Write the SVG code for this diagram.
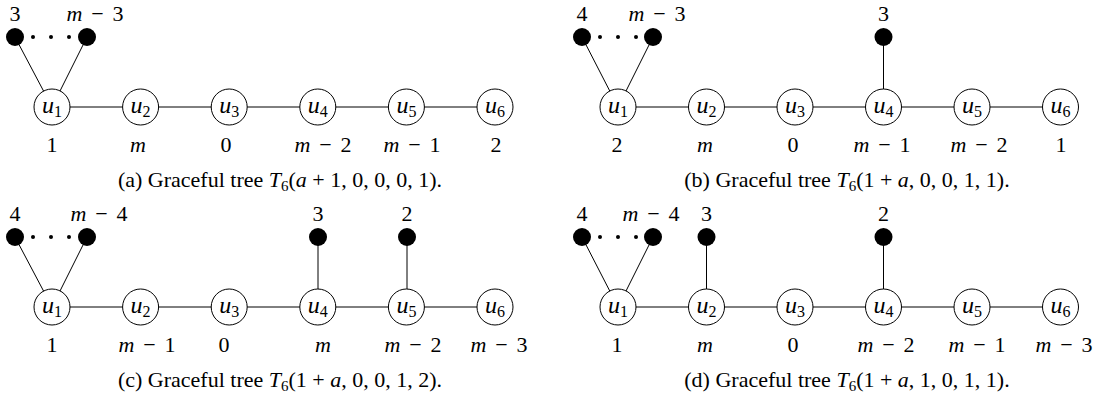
<svg xmlns="http://www.w3.org/2000/svg" width="1102" height="396" viewBox="0 0 1102 396">
<style>
text{font-family:"Liberation Serif","Times New Roman",serif;font-size:22px;fill:#000;text-anchor:middle}
.i{font-style:italic}
.sub{font-size:15px}
.nl{font-size:24px}
.nl .sub{font-size:16px}
.n{fill:#fff;stroke:#000;stroke-width:1}
.leaf{fill:#000}
.dot{fill:#000}
.e{stroke:#000;stroke-width:1;fill:none}
</style>
<rect width="1102" height="396" fill="#fff"/>
<g id="connectors">
<path class="e" d="M15,37L52,107M87,37L52,107M52,107H495"/>
<path class="e" d="M582,37L618,107M653,37L618,107M618,107H1060.5M883.5,37V107"/>
<path class="e" d="M15,237L52,307M87,237L52,307M52,307H495M318,237V307M407,237V307"/>
<path class="e" d="M582,237L618,307M653,237L618,307M618,307H1060.5M706.5,237V307M883.5,237V307"/>
</g>
<!-- Panel (a) -->
<g id="a-leaves">
<circle class="leaf" cx="15" cy="37" r="9"/><circle class="leaf" cx="87" cy="37" r="9"/>
<circle class="dot" cx="33" cy="37" r="2"/><circle class="dot" cx="51" cy="37" r="2"/><circle class="dot" cx="69" cy="37" r="2"/>
<text x="15" y="21">3</text><text x="95" y="21" textLength="57" lengthAdjust="spacing"><tspan class="i">m</tspan> − 3</text>
</g>
<g id="a-u1"><circle class="n" cx="52" cy="107" r="18"/><text class="nl" x="52" y="113"><tspan class="i">u</tspan><tspan class="sub" dy="4">1</tspan></text><text x="52" y="152">1</text></g>
<g id="a-u2"><circle class="n" cx="140.6" cy="107" r="18"/><text class="nl" x="140.6" y="113"><tspan class="i">u</tspan><tspan class="sub" dy="4">2</tspan></text><text x="138" y="152" class="i">m</text></g>
<g id="a-u3"><circle class="n" cx="229.2" cy="107" r="18"/><text class="nl" x="229.2" y="113"><tspan class="i">u</tspan><tspan class="sub" dy="4">3</tspan></text><text x="226" y="152">0</text></g>
<g id="a-u4"><circle class="n" cx="317.8" cy="107" r="18"/><text class="nl" x="317.8" y="113"><tspan class="i">u</tspan><tspan class="sub" dy="4">4</tspan></text><text x="323" y="152" textLength="57" lengthAdjust="spacing"><tspan class="i">m</tspan> − 2</text></g>
<g id="a-u5"><circle class="n" cx="406.4" cy="107" r="18"/><text class="nl" x="406.4" y="113"><tspan class="i">u</tspan><tspan class="sub" dy="4">5</tspan></text><text x="412" y="152" textLength="57" lengthAdjust="spacing"><tspan class="i">m</tspan> − 1</text></g>
<g id="a-u6"><circle class="n" cx="495" cy="107" r="18"/><text class="nl" x="495" y="113"><tspan class="i">u</tspan><tspan class="sub" dy="4">6</tspan></text><text x="496" y="152">2</text></g>
<text id="cap-a" x="280" y="187">(a) Graceful tree <tspan class="i">T</tspan><tspan class="sub" dy="4">6</tspan><tspan dy="-4">(</tspan><tspan class="i">a</tspan> + 1, 0, 0, 0, 1).</text>
<!-- Panel (b) -->
<g id="b-leaves">
<circle class="leaf" cx="582" cy="37" r="9"/><circle class="leaf" cx="653" cy="37" r="9"/>
<circle class="dot" cx="600" cy="37" r="2"/><circle class="dot" cx="618" cy="37" r="2"/><circle class="dot" cx="636" cy="37" r="2"/>
<text x="582" y="21">4</text><text x="657" y="21" textLength="57" lengthAdjust="spacing"><tspan class="i">m</tspan> − 3</text>
</g>
<g id="b-leaf4"><circle class="leaf" cx="883.5" cy="37" r="9"/><text x="883.5" y="21">3</text></g>
<g id="b-u1"><circle class="n" cx="618" cy="107" r="18"/><text class="nl" x="618" y="113"><tspan class="i">u</tspan><tspan class="sub" dy="4">1</tspan></text><text x="617" y="152">2</text></g>
<g id="b-u2"><circle class="n" cx="706.5" cy="107" r="18"/><text class="nl" x="706.5" y="113"><tspan class="i">u</tspan><tspan class="sub" dy="4">2</tspan></text><text x="705" y="152" class="i">m</text></g>
<g id="b-u3"><circle class="n" cx="795" cy="107" r="18"/><text class="nl" x="795" y="113"><tspan class="i">u</tspan><tspan class="sub" dy="4">3</tspan></text><text x="793" y="152">0</text></g>
<g id="b-u4"><circle class="n" cx="883.5" cy="107" r="18"/><text class="nl" x="883.5" y="113"><tspan class="i">u</tspan><tspan class="sub" dy="4">4</tspan></text><text x="882" y="152" textLength="57" lengthAdjust="spacing"><tspan class="i">m</tspan> − 1</text></g>
<g id="b-u5"><circle class="n" cx="972" cy="107" r="18"/><text class="nl" x="972" y="113"><tspan class="i">u</tspan><tspan class="sub" dy="4">5</tspan></text><text x="979" y="152" textLength="57" lengthAdjust="spacing"><tspan class="i">m</tspan> − 2</text></g>
<g id="b-u6"><circle class="n" cx="1060.5" cy="107" r="18"/><text class="nl" x="1060.5" y="113"><tspan class="i">u</tspan><tspan class="sub" dy="4">6</tspan></text><text x="1061" y="152">1</text></g>
<text id="cap-b" x="847" y="187">(b) Graceful tree <tspan class="i">T</tspan><tspan class="sub" dy="4">6</tspan><tspan dy="-4">(1 + </tspan><tspan class="i">a</tspan>, 0, 0, 1, 1).</text>
<!-- Panel (c) -->
<g id="c-leaves">
<circle class="leaf" cx="15" cy="237" r="9"/><circle class="leaf" cx="87" cy="237" r="9"/>
<circle class="dot" cx="33" cy="237" r="2"/><circle class="dot" cx="51" cy="237" r="2"/><circle class="dot" cx="69" cy="237" r="2"/>
<text x="15" y="221">4</text><text x="99" y="221" textLength="57" lengthAdjust="spacing"><tspan class="i">m</tspan> − 4</text>
</g>
<g id="c-leaf3"><circle class="leaf" cx="318" cy="237" r="9"/><text x="318" y="221">3</text></g>
<g id="c-leaf2"><circle class="leaf" cx="407" cy="237" r="9"/><text x="407" y="221">2</text></g>
<g id="c-u1"><circle class="n" cx="52" cy="307" r="18"/><text class="nl" x="52" y="313"><tspan class="i">u</tspan><tspan class="sub" dy="4">1</tspan></text><text x="52" y="352">1</text></g>
<g id="c-u2"><circle class="n" cx="140.6" cy="307" r="18"/><text class="nl" x="140.6" y="313"><tspan class="i">u</tspan><tspan class="sub" dy="4">2</tspan></text><text x="147" y="352" textLength="57" lengthAdjust="spacing"><tspan class="i">m</tspan> − 1</text></g>
<g id="c-u3"><circle class="n" cx="229.2" cy="307" r="18"/><text class="nl" x="229.2" y="313"><tspan class="i">u</tspan><tspan class="sub" dy="4">3</tspan></text><text x="224" y="352">0</text></g>
<g id="c-u4"><circle class="n" cx="317.8" cy="307" r="18"/><text class="nl" x="317.8" y="313"><tspan class="i">u</tspan><tspan class="sub" dy="4">4</tspan></text><text x="323" y="352" class="i">m</text></g>
<g id="c-u5"><circle class="n" cx="406.4" cy="307" r="18"/><text class="nl" x="406.4" y="313"><tspan class="i">u</tspan><tspan class="sub" dy="4">5</tspan></text><text x="413" y="352" textLength="57" lengthAdjust="spacing"><tspan class="i">m</tspan> − 2</text></g>
<g id="c-u6"><circle class="n" cx="495" cy="307" r="18"/><text class="nl" x="495" y="313"><tspan class="i">u</tspan><tspan class="sub" dy="4">6</tspan></text><text x="499" y="352" textLength="57" lengthAdjust="spacing"><tspan class="i">m</tspan> − 3</text></g>
<text id="cap-c" x="280" y="387">(c) Graceful tree <tspan class="i">T</tspan><tspan class="sub" dy="4">6</tspan><tspan dy="-4">(1 + </tspan><tspan class="i">a</tspan>, 0, 0, 1, 2).</text>
<!-- Panel (d) -->
<g id="d-leaves">
<circle class="leaf" cx="582" cy="237" r="9"/><circle class="leaf" cx="653" cy="237" r="9"/>
<circle class="dot" cx="600" cy="237" r="2"/><circle class="dot" cx="618" cy="237" r="2"/><circle class="dot" cx="636" cy="237" r="2"/>
<text x="582" y="221">4</text><text x="651" y="221" textLength="57" lengthAdjust="spacing"><tspan class="i">m</tspan> − 4</text>
</g>
<g id="d-leaf3"><circle class="leaf" cx="706.5" cy="237" r="9"/><text x="706.5" y="221">3</text></g>
<g id="d-leaf2"><circle class="leaf" cx="883.5" cy="237" r="9"/><text x="883.5" y="221">2</text></g>
<g id="d-u1"><circle class="n" cx="618" cy="307" r="18"/><text class="nl" x="618" y="313"><tspan class="i">u</tspan><tspan class="sub" dy="4">1</tspan></text><text x="617" y="352">1</text></g>
<g id="d-u2"><circle class="n" cx="706.5" cy="307" r="18"/><text class="nl" x="706.5" y="313"><tspan class="i">u</tspan><tspan class="sub" dy="4">2</tspan></text><text x="705" y="352" class="i">m</text></g>
<g id="d-u3"><circle class="n" cx="795" cy="307" r="18"/><text class="nl" x="795" y="313"><tspan class="i">u</tspan><tspan class="sub" dy="4">3</tspan></text><text x="793" y="352">0</text></g>
<g id="d-u4"><circle class="n" cx="883.5" cy="307" r="18"/><text class="nl" x="883.5" y="313"><tspan class="i">u</tspan><tspan class="sub" dy="4">4</tspan></text><text x="886" y="352" textLength="57" lengthAdjust="spacing"><tspan class="i">m</tspan> − 2</text></g>
<g id="d-u5"><circle class="n" cx="972" cy="307" r="18"/><text class="nl" x="972" y="313"><tspan class="i">u</tspan><tspan class="sub" dy="4">5</tspan></text><text x="977" y="352" textLength="57" lengthAdjust="spacing"><tspan class="i">m</tspan> − 1</text></g>
<g id="d-u6"><circle class="n" cx="1060.5" cy="307" r="18"/><text class="nl" x="1060.5" y="313"><tspan class="i">u</tspan><tspan class="sub" dy="4">6</tspan></text><text x="1064" y="352" textLength="57" lengthAdjust="spacing"><tspan class="i">m</tspan> − 3</text></g>
<text id="cap-d" x="847" y="387">(d) Graceful tree <tspan class="i">T</tspan><tspan class="sub" dy="4">6</tspan><tspan dy="-4">(1 + </tspan><tspan class="i">a</tspan>, 1, 0, 1, 1).</text>
</svg>
